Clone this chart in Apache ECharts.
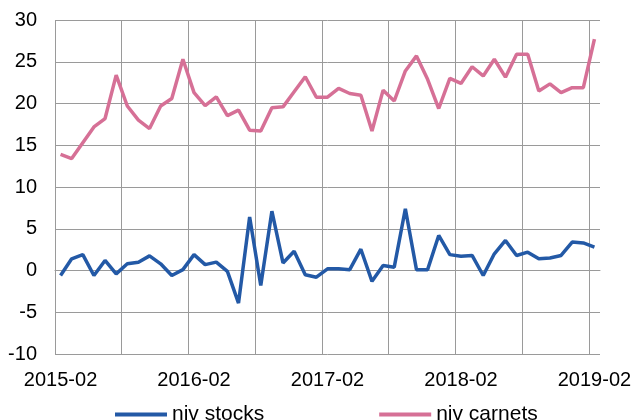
<!DOCTYPE html>
<html>
<head>
<meta charset="utf-8">
<script src="https://cdn.jsdelivr.net/npm/echarts@6/dist/echarts.min.js"></script>
<style>
  html, body { margin: 0; padding: 0; background: #fff; }
  #viz { width: 635px; height: 420px; }
</style>
</head>
<body>
<div id="viz"></div>
<script>
// monthly categories 2015-02 .. 2019-02
var months = [];
for (var y = 2015; y <= 2019; y++) {
  for (var m = 1; m <= 12; m++) {
    if ((y == 2015 && m < 2) || (y == 2019 && m > 2)) continue;
    months.push(y + '-' + (m < 10 ? '0' + m : m));
  }
}

var nivStocks = [
  -0.6, 1.4, 1.9, -0.6, 1.2, -0.4, 0.8, 1.0, 1.75, 0.8, -0.6, 0.1,
  1.9, 0.7, 1.0, -0.1, -3.9, 6.4, -1.8, 7.1, 0.9, 2.3, -0.5, -0.8,
  0.2, 0.2, 0.1, 2.55, -1.3, 0.6, 0.4, 7.4, 0.1, 0.1, 4.2, 1.9,
  1.7, 1.8, -0.6, 2.0, 3.6, 1.8, 2.2, 1.4, 1.5, 1.8, 3.4, 3.3, 2.8
];

var nivCarnets = [
  13.9, 13.4, 15.3, 17.2, 18.2, 23.4, 19.7, 18.0, 17.0, 19.7, 20.6, 25.3,
  21.3, 19.75, 20.8, 18.55, 19.2, 16.8, 16.7, 19.5, 19.6, 21.4, 23.2, 20.75,
  20.75, 21.8, 21.2, 21.0, 16.7, 21.6, 20.3, 23.9, 25.7, 22.9, 19.4, 23.0,
  22.4, 24.4, 23.3, 25.3, 23.15, 25.9, 25.9, 21.5, 22.35, 21.3, 21.9, 21.9, 27.7
];

var yTicks = { min: -10, max: 30, interval: 5 };

var gridColor = '#9a9a9a';
var fontFam = '"Liberation Sans", Arial, sans-serif';

var myChart = echarts.init(document.getElementById('viz'), null, { renderer: 'canvas' });

var option = {
  animation: false,
  textStyle: { fontFamily: fontFam },
  grid: { left: 55, right: 35, top: 20, height: 334 },
  legend: {
    data: ['niv stocks', 'niv carnets'],
    left: 115,
    top: 404,
    padding: 0,
    itemGap: 115,
    itemWidth: 52,
    itemHeight: 4,
    icon: 'rect',
    textStyle: { fontSize: 21, color: '#000', fontFamily: fontFam }
  },
  xAxis: {
    type: 'category',
    data: months,
    boundaryGap: true,
    axisLine: { show: true, lineStyle: { color: gridColor, width: 1 } },
    axisTick: { show: false },
    axisLabel: {
      interval: 11,
      fontSize: 20,
      color: '#000',
      margin: 16,
      fontFamily: fontFam
    },
    splitLine: {
      show: true,
      interval: 5,
      showMaxLine: false,
      lineStyle: { color: gridColor, width: 1 }
    }
  },
  yAxis: {
    type: 'value',
    min: yTicks.min,
    max: yTicks.max,
    interval: yTicks.interval,
    axisLine: { show: false },
    axisTick: { show: false },
    axisLabel: { fontSize: 20, color: '#000', margin: 18, fontFamily: fontFam },
    splitLine: { show: true, lineStyle: { color: gridColor, width: 1 } }
  },
  series: [{
    name: 'niv stocks',
    type: 'line',
    data: nivStocks,
    symbol: 'none',
    lineStyle: { width: 3.5, color: '#2359a6' },
    itemStyle: { color: '#2359a6' }
  }, {
    name: 'niv carnets',
    type: 'line',
    data: nivCarnets,
    symbol: 'none',
    lineStyle: { width: 3.5, color: '#d67096' },
    itemStyle: { color: '#d67096' }
  }]
};

myChart.setOption(option);
</script>
</body>
</html>
